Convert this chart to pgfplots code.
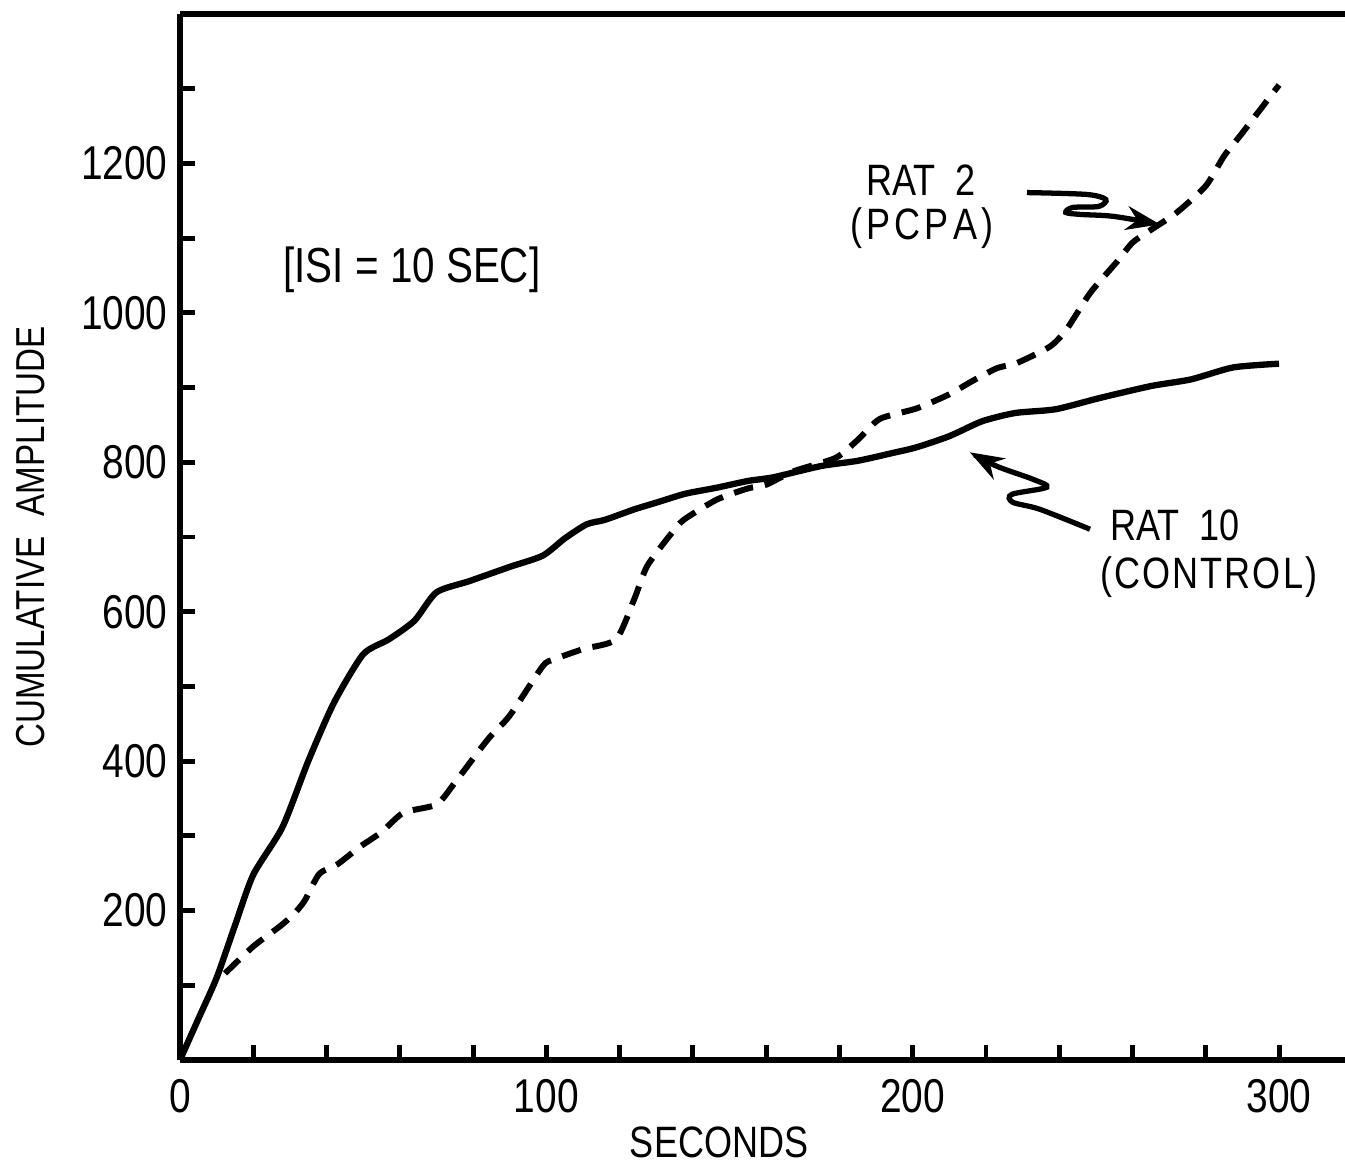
\documentclass[border=0pt]{standalone}
\usepackage{fontspec}
\setmainfont{Liberation Sans}[FakeStretch=0.82]
\usepackage{pgfplots}
\pgfplotsset{compat=1.18}
\usetikzlibrary{arrows.meta}

\begin{document}
\begin{tikzpicture}
\useasboundingbox (-1.80,-1.02) rectangle (11.65,10.60);
\begin{axis}[
    at={(0,0)}, anchor=south west,
    scale only axis,
    width=11.65cm, height=10.46cm,
    xmin=0, xmax=318, ymin=0, ymax=1400,
    axis lines=left,
    axis line style={-, line width=1.5pt},
    tick align=inside,
    major tick length=0.15cm,
    tick style={line width=1.4pt, black},
    xtick={0,20,...,300},
    xticklabels={0,,,,,100,,,,,200,,,,,300},
    ytick={100,200,...,1300},
    yticklabels={,200,,400,,600,,800,,1000,,1200,},
    tick label style={font=\fontsize{13.5}{16}\selectfont},
    xticklabel style={yshift=-2pt},
    /pgf/number format/assume math mode=true,
    xlabel={SECONDS},
    ylabel={CUMULATIVE\enspace AMPLITUDE},
    xlabel style={at={(axis description cs:0.4627,-0.079)}, anchor=center,
        font=\fontsize{12.5}{14}\selectfont},
    ylabel style={at={(axis description cs:-0.128,0.5)}, anchor=center,
        font=\fontsize{11.5}{14}\selectfont},
    clip=false,
]
% RAT 10 (control), solid
\addplot[black, line width=1.8pt, smooth, tension=0.4] coordinates {
    (0,0) (5,55) (10,110) (15,180) (20,248) (28,312) (35,400) (42,478)
    (50,543) (57,563) (64,588) (70,626) (79,641) (90,660) (99,675)
    (105,698) (111,717) (116,723) (124,737) (130,746) (138,758)
    (146.5,766) (155,775) (162,780) (175,795) (185,802) (195,813)
    (201,820) (210,835) (219,855) (228,866) (239,871) (251,886)
    (265,902) (276,911) (287.5,927) (300,932)
};
% RAT 2 (PCPA), dashed
\addplot[black, line width=1.7pt, dash pattern=on 5.6pt off 3.4pt, smooth, tension=0.4] coordinates {
    (12.3,116) (20,152) (27.3,179) (31,195) (34,213) (38,249) (43,262)
    (49,285) (55,305) (61,331) (70,342) (75,371) (84,429) (90,461)
    (99,527) (102,536) (110,550) (119,563) (124,617) (127.5,661)
    (134,704) (137.5,723) (146.5,750) (155,765) (160,770) (167.5,788)
    (179,806) (185,830) (191,858) (201,872) (210,891) (216,908)
    (223,926) (228.5,933) (237.5,955) (242,978) (248.5,1027) (255.5,1067)
    (260,1094) (265,1111) (272,1134) (280,1170) (285,1210) (290,1241)
    (300,1305)
};
\draw[line width=1.5pt] (rel axis cs:0,1) -- (rel axis cs:1,1);

\node[font=\fontsize{14}{16}\selectfont] at (axis cs:63.3,1057) {[ISI = 10 SEC]};
\node[font=\fontsize{12.5}{14}\selectfont] at (axis cs:202.2,1177) {RAT\ \ 2};
\node[font=\fontsize{12.5}{14}\selectfont] at (axis cs:202.5,1113)
    {(\kern1.2pt P\kern1.2pt C\kern1.2pt P\kern1.2pt A\kern1.2pt)};
\node[font=\fontsize{12.5}{14}\selectfont] at (axis cs:271.6,716) {RAT\ \ 10};
\node[font=\fontsize{12.5}{14}\selectfont] at (axis cs:280.8,646)
    {(\kern0.6pt C\kern0.6pt O\kern0.6pt N\kern0.6pt T\kern0.6pt R\kern0.6pt O\kern0.6pt L\kern0.6pt)};

\draw[line width=1.5pt, -{Stealth[length=0.34cm, width=0.24cm]}] plot[smooth, tension=0.5] coordinates {
    (axis cs:231.2,1161) (axis cs:247.5,1158.5) (axis cs:252.7,1151.8)
    (axis cs:250.8,1142.5) (axis cs:243.7,1141.1) (axis cs:241.8,1134.4)
    (axis cs:245.6,1131.8) (axis cs:254.9,1129.1) (axis cs:267.5,1118.4)
};
\draw[line width=1.5pt, -{Stealth[length=0.34cm, width=0.24cm]}] plot[smooth, tension=0.5] coordinates {
    (axis cs:248.4,710.4) (axis cs:234.7,737.1) (axis cs:227.3,746.5)
    (axis cs:227.1,757.2) (axis cs:236.6,766.6) (axis cs:232.8,777.3)
    (axis cs:223.0,794.6) (axis cs:215.6,813.4)
};
\end{axis}
\end{tikzpicture}
\end{document}
